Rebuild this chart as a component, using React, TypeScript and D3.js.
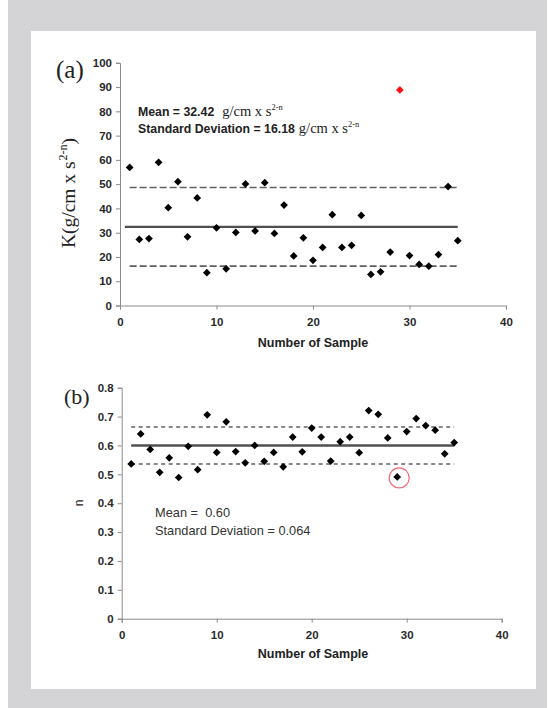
import * as d3 from "d3";
import React, { useEffect, useRef } from "react";

// sample number (x) for both panels
const sampleNo = [
  1, 2, 3, 4, 5, 6, 7, 8, 9, 10, 11, 12, 13, 14, 15, 16, 17, 18,
  19, 20, 21, 22, 23, 24, 25, 26, 27, 28, 29, 30, 31, 32, 33, 34, 35,
];

// (a) K values, g/cm x s^(2-n)
const kValues = [
  56.9, 27.2, 27.6, 59.0, 40.3, 51.0, 28.3, 44.3, 13.5, 32.0, 15.1, 30.1,
  50.1, 30.7, 50.6, 29.7, 41.4, 20.4, 27.9, 18.6, 23.9, 37.4, 23.9, 24.8,
  37.1, 12.8, 13.9, 22.0, 88.8, 20.6, 16.9, 16.2, 21.0, 49.0, 26.7,
];

// (b) n values
const nValues = [
  0.536, 0.64, 0.586, 0.507, 0.557, 0.489, 0.597, 0.516, 0.706, 0.576, 0.682,
  0.579, 0.54, 0.6, 0.545, 0.576, 0.526, 0.629, 0.578, 0.66, 0.629, 0.546,
  0.613, 0.629, 0.575, 0.721, 0.708, 0.626, 0.491, 0.648, 0.693, 0.669, 0.653,
  0.571, 0.61,
];

const outlierSample = 29;

const kMean = 32.42;
const kSd = 16.18;
const nMean = 0.6;
const nSd = 0.064;

const xTicks = [0, 10, 20, 30, 40];
const kTicks = [0, 10, 20, 30, 40, 50, 60, 70, 80, 90, 100];
const nTicks = [0, 0.1, 0.2, 0.3, 0.4, 0.5, 0.6, 0.7, 0.8];

const SANS = "'Liberation Sans', Arial, sans-serif";
const SERIF = "'Liberation Serif', 'Times New Roman', serif";

const App = () => {
  const ref = useRef<SVGSVGElement>(null);

  useEffect(() => {
    const svg = d3.select(ref.current);
    svg.selectAll("*").remove();

    // background
    svg.append("rect").attr("width", 555).attr("height", 708).attr("fill", "#fff");
    svg.append("rect").attr("x", 8).attr("y", 0).attr("width", 539).attr("height", 708).attr("fill", "#d4d4d6");
    svg.append("rect").attr("x", 31).attr("y", 31).attr("width", 505).attr("height", 658).attr("fill", "#fff");

    const diamond = d3.symbol().type(d3.symbolSquare).size(30);

    const drawPanel = (opts) => {
      const { x, y, values, ticks, fmt, mean, sd, dash, meanWidth } = opts;
      const g = svg.append("g");

      // axes
      const xAxis = d3.axisBottom(x).tickValues(xTicks).tickSize(4).tickPadding(8);
      const yAxis = d3.axisLeft(y).tickValues(ticks).tickSize(4).tickPadding(4).tickFormat(fmt);
      const yr = y.range();
      const xr = x.range();

      g.append("g").attr("transform", `translate(0,${yr[0]})`).call(xAxis);
      g.append("g").attr("transform", `translate(${xr[0]},0)`).call(yAxis);

      g.selectAll(".domain, .tick line").attr("stroke", "#8a8a8a").attr("stroke-width", 1);
      g.selectAll(".tick text")
        .attr("fill", "#2a2a2a")
        .style("font-family", SANS)
        .style("font-size", "11.5px")
        .style("font-weight", "bold");

      // mean and mean ± sd lines
      const first = sampleNo[0];
      const last = sampleNo[sampleNo.length - 1];
      g.append("line")
        .attr("x1", x(opts.meanStart)).attr("x2", x(last))
        .attr("y1", y(mean)).attr("y2", y(mean))
        .attr("stroke", "#505050").attr("stroke-width", meanWidth);
      [mean + sd, mean - sd].forEach((v) => {
        g.append("line")
          .attr("x1", x(first)).attr("x2", x(last))
          .attr("y1", y(v)).attr("y2", y(v))
          .attr("stroke", "#606060").attr("stroke-width", 1.6)
          .attr("stroke-dasharray", dash);
      });

      // points
      g.selectAll("path.pt")
        .data(values)
        .join("path")
        .attr("class", "pt")
        .attr("d", diamond)
        .attr("transform", (d, i) => `translate(${x(sampleNo[i])},${y(d)}) rotate(45)`)
        .attr("fill", (d, i) => (opts.redOutlier && sampleNo[i] === outlierSample ? "#ff1010" : "#000"));

      return g;
    };

    // ---------- (a) ----------
    const xA = d3.scaleLinear().domain([0, 40]).range([120, 506]);
    const yA = d3.scaleLinear().domain([0, 100]).range([305.5, 62.8]);
    const gA = drawPanel({
      x: xA, y: yA, values: kValues, ticks: kTicks, fmt: d3.format("d"),
      mean: kMean, sd: kSd, dash: "7,3", meanWidth: 2.2, meanStart: 0.5, redOutlier: true,
    });

    gA.append("text")
      .attr("x", 56).attr("y", 78)
      .style("font-family", SERIF).style("font-size", "25px").attr("fill", "#222")
      .text("(a)");

    const yLabA = gA.append("text")
      .attr("transform", "translate(75,193) rotate(-90)")
      .attr("text-anchor", "middle")
      .style("font-family", SERIF).style("font-size", "19.5px").attr("fill", "#222");
    yLabA.append("tspan").text("K(g/cm x s");
    yLabA.append("tspan").attr("dy", -8).attr("dx", 1).style("font-size", "12px").text("2-n");
    yLabA.append("tspan").attr("dy", 8).text(")");

    gA.append("text")
      .attr("x", 313).attr("y", 347).attr("text-anchor", "middle")
      .style("font-family", SANS).style("font-size", "12.5px").style("font-weight", "bold").attr("fill", "#222")
      .text("Number of Sample");

    const annA = [
      { label: `Mean = ${kMean.toFixed(2)}`, gap: 8, y: 116 },
      { label: `Standard Deviation = ${kSd.toFixed(2)}`, gap: 4, y: 133 },
    ];
    annA.forEach((a) => {
      const t = gA.append("text")
        .attr("x", 138).attr("y", a.y)
        .style("font-family", SANS).style("font-size", "12.3px").style("font-weight", "bold").attr("fill", "#222")
        .text(a.label);
      const w = (t.node() as SVGTextElement).getComputedTextLength();
      const u = gA.append("text")
        .attr("x", 138 + w + a.gap).attr("y", a.y)
        .style("font-family", SERIF).style("font-size", "14.5px").attr("fill", "#222");
      u.append("tspan").text("g/cm x s");
      u.append("tspan").attr("dy", -6).style("font-size", "8.5px").text("2-n");
    });

    // ---------- (b) ----------
    const xB = d3.scaleLinear().domain([0, 40]).range([121.7, 501.7]);
    const yB = d3.scaleLinear().domain([0, 0.8]).range([618.7, 387.7]);
    const gB = drawPanel({
      x: xB, y: yB, values: nValues, ticks: nTicks, fmt: (d) => (d === 0 ? "0" : d3.format(".1f")(d)),
      mean: nMean, sd: nSd, dash: "4,3.5", meanWidth: 2.4, meanStart: 1, redOutlier: false,
    });

    // circle round the low n point
    const oi = sampleNo.indexOf(outlierSample);
    gB.append("circle")
      .attr("cx", xB(sampleNo[oi]) + 2).attr("cy", yB(nValues[oi]) + 1).attr("r", 10)
      .attr("fill", "none").attr("stroke", "#f06a78").attr("stroke-width", 1.2);

    gB.append("text")
      .attr("x", 64).attr("y", 404)
      .style("font-family", SERIF).style("font-size", "22px").attr("fill", "#222")
      .text("(b)");

    gB.append("text")
      .attr("transform", "translate(83,503) rotate(-90)")
      .attr("text-anchor", "middle")
      .style("font-family", SANS).style("font-size", "12px").attr("fill", "#222")
      .text("n");

    gB.append("text")
      .attr("x", 313).attr("y", 658).attr("text-anchor", "middle")
      .style("font-family", SANS).style("font-size", "12.5px").style("font-weight", "bold").attr("fill", "#222")
      .text("Number of Sample");

    gB.append("text")
      .attr("x", 155).attr("y", 517)
      .style("font-family", SANS).style("font-size", "12.8px").attr("fill", "#333")
      .style("white-space", "pre")
      .text(`Mean =  ${nMean.toFixed(2)}`);
    gB.append("text")
      .attr("x", 155).attr("y", 535)
      .style("font-family", SANS).style("font-size", "12.8px").attr("fill", "#333")
      .text(`Standard Deviation = ${nSd.toFixed(3)}`);
  }, []);

  return (
    <svg
      ref={ref}
      width={555}
      height={708}
      style={{ position: "absolute", left: 0, top: 0, display: "block" }}
    />
  );
};

export default App;
